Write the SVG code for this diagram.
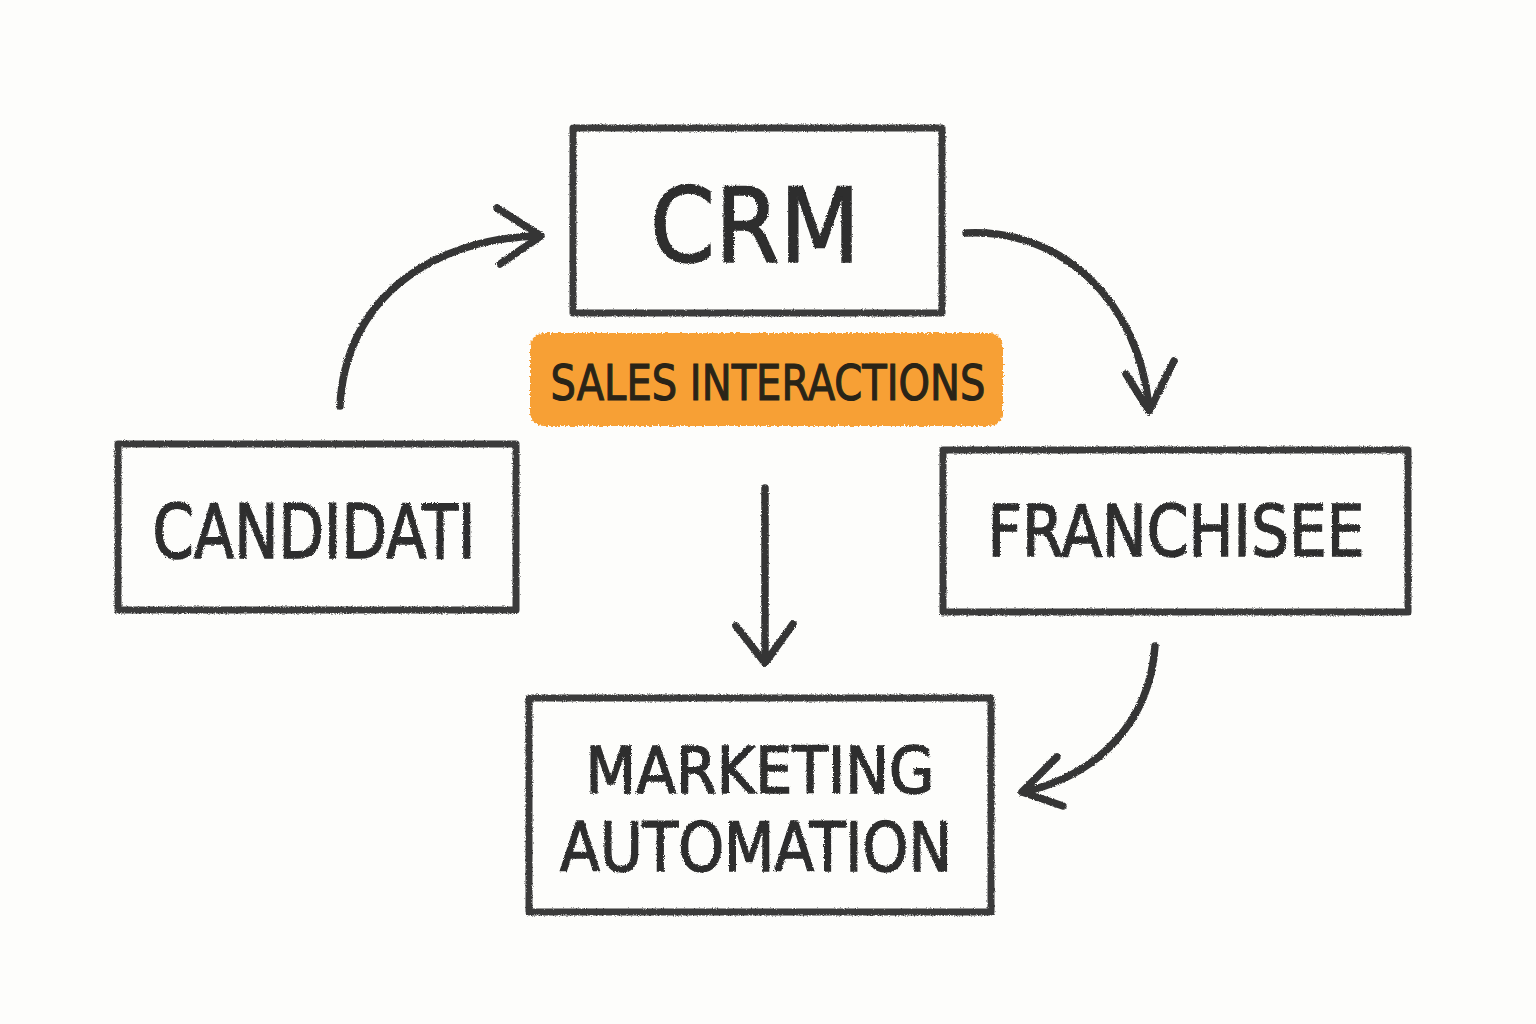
<svg xmlns="http://www.w3.org/2000/svg" width="1536" height="1024" viewBox="0 0 1536 1024">
<defs>
<filter id="pencil" x="-5%" y="-5%" width="110%" height="110%">
<feTurbulence type="fractalNoise" baseFrequency="0.9" numOctaves="2" seed="3" result="n"/>
<feDisplacementMap in="SourceGraphic" in2="n" scale="3" xChannelSelector="R" yChannelSelector="G"/>
</filter>
<filter id="crayon" x="-5%" y="-10%" width="110%" height="120%">
<feTurbulence type="fractalNoise" baseFrequency="0.5" numOctaves="2" seed="7" result="n"/>
<feDisplacementMap in="SourceGraphic" in2="n" scale="6" xChannelSelector="R" yChannelSelector="G"/>
</filter>
</defs>
<style>
.box{fill:none;stroke:#3a3a3a;stroke-width:7;stroke-linejoin:round}
.lbl{font-family:"DejaVu Sans","Liberation Sans",sans-serif;fill:#2e2e2e;stroke:#2e2e2e;stroke-width:1.6;text-anchor:middle}
.arr{fill:none;stroke:#363636;stroke-width:7.5;stroke-linecap:round;stroke-linejoin:round}
</style>
<rect width="1536" height="1024" fill="#fdfdfb"/>
<g id="crm" filter="url(#pencil)">
<rect class="box" x="573" y="128" width="369" height="185"/>
<text class="lbl" x="755" y="262" font-size="104" textLength="210" lengthAdjust="spacingAndGlyphs">CRM</text>
</g>
<g id="sales-interactions">
<rect x="530" y="333" width="473" height="93" rx="14" fill="#f7a036" filter="url(#crayon)"/>
<text class="lbl" x="768" y="400" font-size="50" textLength="435" lengthAdjust="spacingAndGlyphs" style="fill:#2a2417;stroke:#2a2417;stroke-width:1.2">SALES INTERACTIONS</text>
</g>
<g id="candidati" filter="url(#pencil)">
<rect class="box" x="118" y="444" width="398" height="166"/>
<text class="lbl" x="314" y="558" font-size="74" textLength="323" lengthAdjust="spacingAndGlyphs">CANDIDATI</text>
</g>
<g id="franchisee" filter="url(#pencil)">
<rect class="box" x="943" y="450" width="465" height="162"/>
<text class="lbl" x="1176" y="556" font-size="72" textLength="377" lengthAdjust="spacingAndGlyphs">FRANCHISEE</text>
</g>
<g id="marketing-automation" filter="url(#pencil)">
<rect class="box" x="529" y="698" width="462" height="214"/>
<text class="lbl" x="760" y="793" font-size="64" textLength="349" lengthAdjust="spacingAndGlyphs">MARKETING</text>
<text class="lbl" x="756" y="871" font-size="68" textLength="392" lengthAdjust="spacingAndGlyphs">AUTOMATION</text>
</g>
<g id="connectors" filter="url(#pencil)">
<path class="arr" d="M340 406 C 345 300 430 238 540 236"/>
<path class="arr" d="M497 208 L541 236 L500 264"/>
<path class="arr" d="M966 233 C 1060 228 1140 300 1149 410"/>
<path class="arr" d="M1126 374 L1149 411 L1174 361"/>
<path class="arr" d="M765 488 L765 662"/>
<path class="arr" d="M736 626 L765 663 L793 624"/>
<path class="arr" d="M1155 646 C 1150 720 1100 775 1023 792"/>
<path class="arr" d="M1057 757 L1022 792 L1063 806"/>
</g>
</svg>
